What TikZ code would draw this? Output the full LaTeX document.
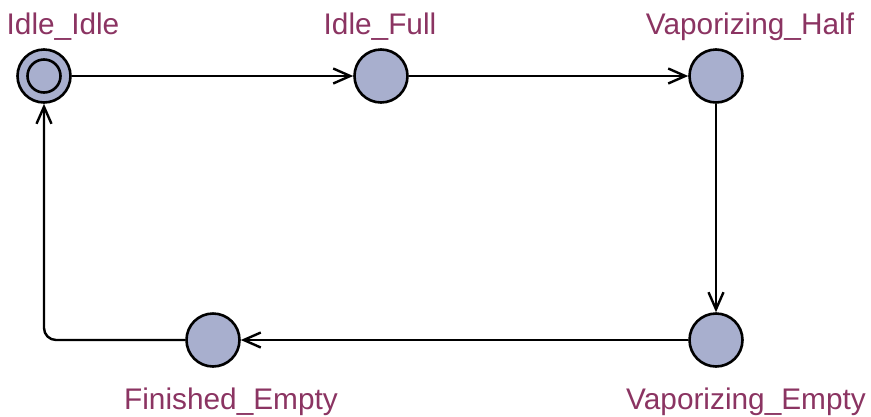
\documentclass[tikz,border=0pt]{standalone}
\usepackage{fontspec}
\setmainfont{Liberation Sans}
\usetikzlibrary{arrows.meta}
\definecolor{stfill}{RGB}{168,175,206}
\definecolor{lblcol}{RGB}{139,52,98}
\begin{document}
\begin{tikzpicture}[x=1pt,y=-1pt,
  state/.style={circle,draw=black,line width=2.6pt,fill=stfill,minimum size=53pt,inner sep=0pt},
  lbl/.style={text=lblcol,font=\fontsize{29.8}{31}\selectfont,anchor=base,inner sep=0pt},
  edge/.style={line width=2.4pt,-{Straight Barb[length=17pt,width=15pt,line width=2.4pt]}}
]
\useasboundingbox (0,0) rectangle (871,416);
\node[state] (ii) at (44,76) {};
\draw[line width=2.6pt] (ii) circle[radius=16.5];
\node[state] (if) at (381,76) {};
\node[state] (vh) at (716,76) {};
\node[state] (ve) at (716,340) {};
\node[state] (fe) at (213,340) {};
\node[lbl] (lii) at (63,34) {Idle\_Idle};
\node[lbl] (lif) at (380,34) {Idle\_Full};
\node[lbl] (lvh) at (750,34) {Vaporizing\_Half};
\node[lbl] (lve) at (746,409) {Vaporizing\_Empty};
\node[lbl] (lfe) at (231,409) {Finished\_Empty};
\draw[edge] (ii.east) -- (if.west);
\draw[edge] (if.east) -- (vh.west);
\draw[edge] (vh.south) -- (ve.north);
\draw[edge] (ve.west) -- (fe.east);
\coordinate (corner) at (44,340);
\draw[edge,rounded corners=12pt] (fe.west) -- (corner) -- (ii.south);
\end{tikzpicture}
\end{document}
